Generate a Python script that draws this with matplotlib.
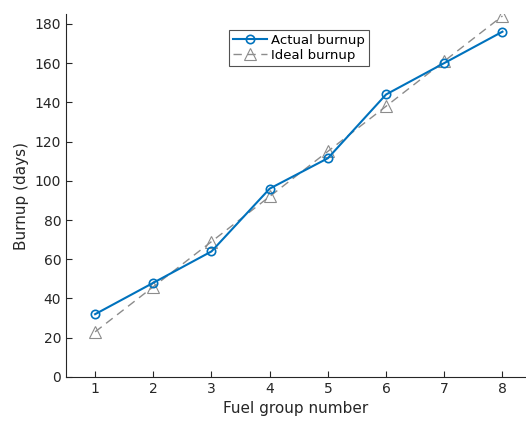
import matplotlib
matplotlib.use("Agg")
import matplotlib.pyplot as plt

# Fuel group burnup data
groups = [1, 2, 3, 4, 5, 6, 7, 8]
actual_burnup = [32, 48, 64, 96, 111.5, 144, 160, 176]
ideal_burnup = [23, 46, 69, 92, 115, 138, 161, 184]
y_ticks = [0, 20, 40, 60, 80, 100, 120, 140, 160, 180]

blue = (0.0, 0.447, 0.741)
grey = (0.55, 0.55, 0.55)
axis_col = (0.15, 0.15, 0.15)

fig = plt.figure(figsize=(5.26, 4.25), dpi=100)
ax = fig.add_axes([0.1255, 0.113, 0.874, 0.854])

ax.plot(groups, actual_burnup, '-o', color=blue, linewidth=1.5,
        markersize=6, markerfacecolor='none', markeredgewidth=1.2,
        label='Actual burnup', zorder=3)
ax.plot(groups, ideal_burnup, '--^', color=grey, linewidth=1.0,
        markersize=9, markerfacecolor='none', markeredgewidth=0.8,
        dashes=(6, 4), label='Ideal burnup', zorder=2)

ax.set_xlim(0.5, 8.4)
ax.set_ylim(0, 185)
ax.set_xticks(groups)
ax.set_yticks(y_ticks)

for side in ('top', 'right'):
    ax.spines[side].set_visible(False)
for side in ('left', 'bottom'):
    ax.spines[side].set_color(axis_col)
    ax.spines[side].set_linewidth(0.8)
ax.tick_params(direction='in', length=4, colors=axis_col, labelsize=10,
               width=0.8, labelcolor=axis_col)

ax.set_xlabel('Fuel group number', fontsize=11, color=axis_col)
ax.set_ylabel('Burnup (days)', fontsize=11, color=axis_col)

leg = ax.legend(loc='upper center', bbox_to_anchor=(0.507, 0.975),
                fontsize=9.5, frameon=True, fancybox=False,
                edgecolor=axis_col, handlelength=2.6, borderpad=0.3,
                labelspacing=0.15, handletextpad=0.3)
leg.get_frame().set_linewidth(0.8)

fig.savefig('out.png', dpi=100)
